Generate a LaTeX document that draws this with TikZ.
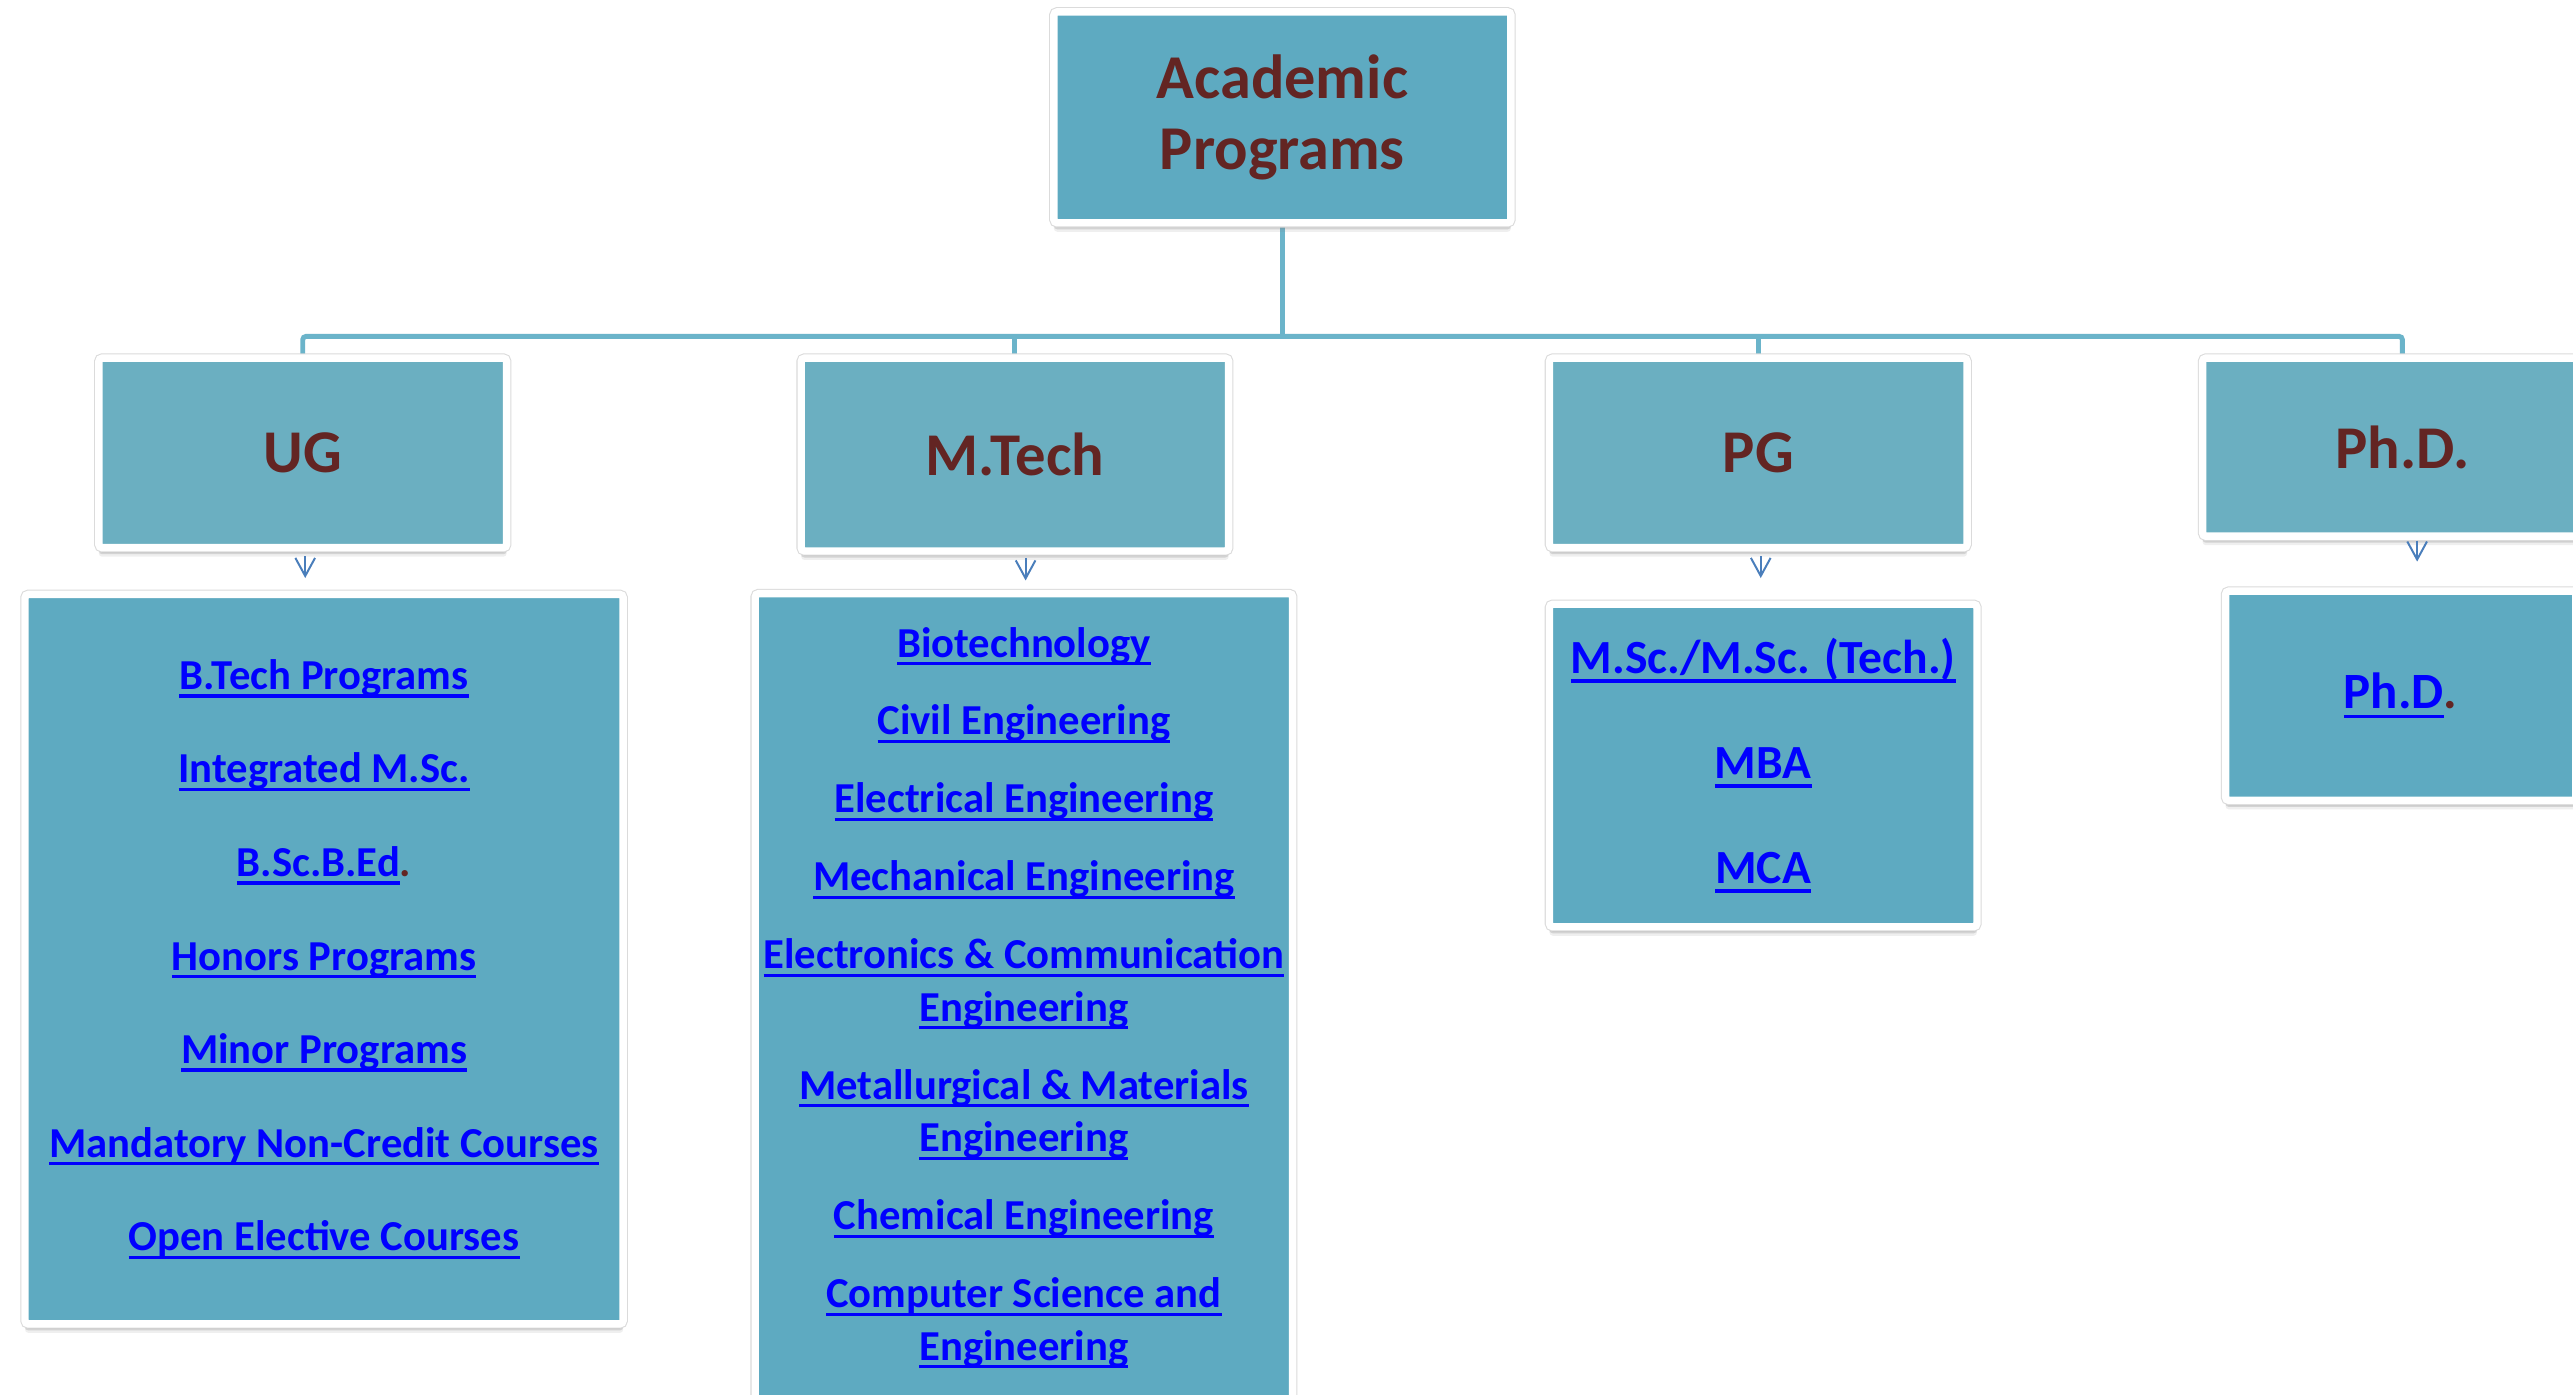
\documentclass[tikz,border=0pt]{standalone}
\usepackage{fontspec}
\setmainfont{Carlito}
\usetikzlibrary{shadows,calc}
\definecolor{boxA}{HTML}{5EAAC1}
\definecolor{boxB}{HTML}{6BAFC1}
\definecolor{lineC}{HTML}{6BB4CA}
\definecolor{titleR}{HTML}{632523}
\definecolor{linkB}{HTML}{0000FF}
\definecolor{arrB}{HTML}{4A7EBB}
\newsavebox\lnkbox
\newcommand\lnk[1]{\sbox\lnkbox{#1}\rlap{\rule[-0.19em]{\wd\lnkbox}{0.075em}}\usebox\lnkbox}
\pgfdeclarelayer{bg}
\pgfsetlayers{bg,main}
\begin{document}
\begin{tikzpicture}[x=1pt,y=-1pt,
  frame/.style={draw=white, line width=4.5pt, rounded corners=2pt, inner sep=0pt, align=center,
    drop shadow={shadow xshift=0pt, shadow yshift=-5.5pt, opacity=0.12},
    drop shadow={shadow xshift=0pt, shadow yshift=-4pt, opacity=0.25},
    drop shadow={shadow xshift=0pt, shadow yshift=-3pt, opacity=0.25},
    preaction={draw=black!14, line width=5.8pt}},
  lvlzero/.style={frame, fill=boxA, text=titleR, font=\bfseries\fontsize{38}{43}\selectfont},
  lvlone/.style={frame, fill=boxB, text=titleR, font=\bfseries\fontsize{37}{44}\selectfont},
  lst/.style={frame, fill=boxA, text=linkB},
  conn/.style={draw=lineC, line width=3pt},
  arr/.style={draw=arrB, line width=1.2pt},
  vhead/.style={draw=arrB, line width=1.2pt, line join=miter}]
\useasboundingbox (0,0) rectangle (1568,850);
\clip (0,0) rectangle (1568,850);

\node[lvlzero, minimum width=278.5pt, minimum height=128.5pt] (top) at (781.5,71.5) {Academic\\Programs};

\node[lvlone, minimum width=248.5pt, minimum height=115.5pt] (ug) at (184.5,276) {UG};
\node[lvlone, minimum width=260.5pt, minimum height=117.5pt] (mt) at (618.5,277) {M.Tech};
\node[lvlone, minimum width=254.5pt, minimum height=115.5pt] (pg) at (1071.5,276) {PG};
\node[lvlone, minimum width=243.5pt, minimum height=108.5pt] (phd) at (1464,272.5) {Ph.D.};

\node[lst, minimum width=364.5pt, minimum height=444.5pt, font=\bfseries\fontsize{26}{57}\selectfont] (ugc) at (197.5,584.5)
 {\lnk{B.Tech Programs}\\
  \lnk{Integrated M.Sc.}\\
  \lnk{B.Sc.B.Ed}{\color{titleR}.}\\
  \lnk{Honors Programs}\\
  \lnk{Minor Programs}\\
  \lnk{Mandatory Non-Credit Courses}\\
  \lnk{Open Elective Courses}};

\node[lst, minimum width=327.5pt, minimum height=492.5pt, font=\bfseries\fontsize{26}{32}\selectfont] (mtc) at (624,608)
 {\lnk{Biotechnology}\\[15.5pt]
  \lnk{Civil Engineering}\\[15.5pt]
  \lnk{Electrical Engineering}\\[15.5pt]
  \lnk{Mechanical Engineering}\\[15.5pt]
  \lnk{Electronics \& Communication}\\
  \lnk{Engineering}\\[15.5pt]
  \lnk{Metallurgical \& Materials}\\
  \lnk{Engineering}\\[15.5pt]
  \lnk{Chemical Engineering}\\[15.5pt]
  \lnk{Computer Science and}\\
  \lnk{Engineering}};

\node[lst, minimum width=260.5pt, minimum height=196.5pt, font=\bfseries\fontsize{29}{64}\selectfont] (pgc) at (1074.5,466.5)
 {\lnk{M.Sc./M.Sc. (Tech.)}\\
  \lnk{MBA}\\
  \lnk{MCA}};

\node[lst, minimum width=213.5pt, minimum height=127.5pt, font=\bfseries\fontsize{31}{38}\selectfont] (phdc) at (1463,424)
 {\lnk{Ph.D}{\color{titleR}.}};

\coordinate (bus) at (782,205);
\begin{pgfonlayer}{bg}
\fill[white] (0,0) rectangle (1568,850);
\draw[conn] (top.south) -- (top.south |- bus);
\draw[conn, rounded corners=2pt] (ug.north) -- (ug.north |- bus) -- (phd.north |- bus) -- (phd.north);
\draw[conn] (mt.north |- bus) -- (mt.north);
\draw[conn] (pg.north |- bus) -- (pg.north);
\end{pgfonlayer}

% small blue arrows between each level box and its list
\coordinate (ugtip)  at ($(ug.south |- ugc.north)+(1.5,-9)$);
\coordinate (mttip)  at ($(mt.south |- mtc.north)+(6.5,-7)$);
\coordinate (pgtip)  at ($(pg.south |- pgc.north)+(1.5,-15)$);
\coordinate (phdtip) at ($(phd.south |- phdc.north)+(9,-17)$);
\draw[arr] ($(ug.south)+(1.5,3)$) -- (ugtip);
\draw[arr] ($(mt.south)+(6.5,2)$) -- (mttip);
\draw[arr] ($(pg.south)+(1.5,3)$) -- (pgtip);
\draw[arr] ($(phd.south)+(9,0.5)$) -- (phdtip);
\draw[vhead] (ugtip) ++(-6,-11) -- (ugtip) -- ++(6,-11);
\draw[vhead] (mttip) ++(-6,-11) -- (mttip) -- ++(6,-11);
\draw[vhead] (pgtip) ++(-6,-11) -- (pgtip) -- ++(6,-11);
\draw[vhead] (phdtip) ++(-6,-11) -- (phdtip) -- ++(6,-11);
\end{tikzpicture}
\end{document}
